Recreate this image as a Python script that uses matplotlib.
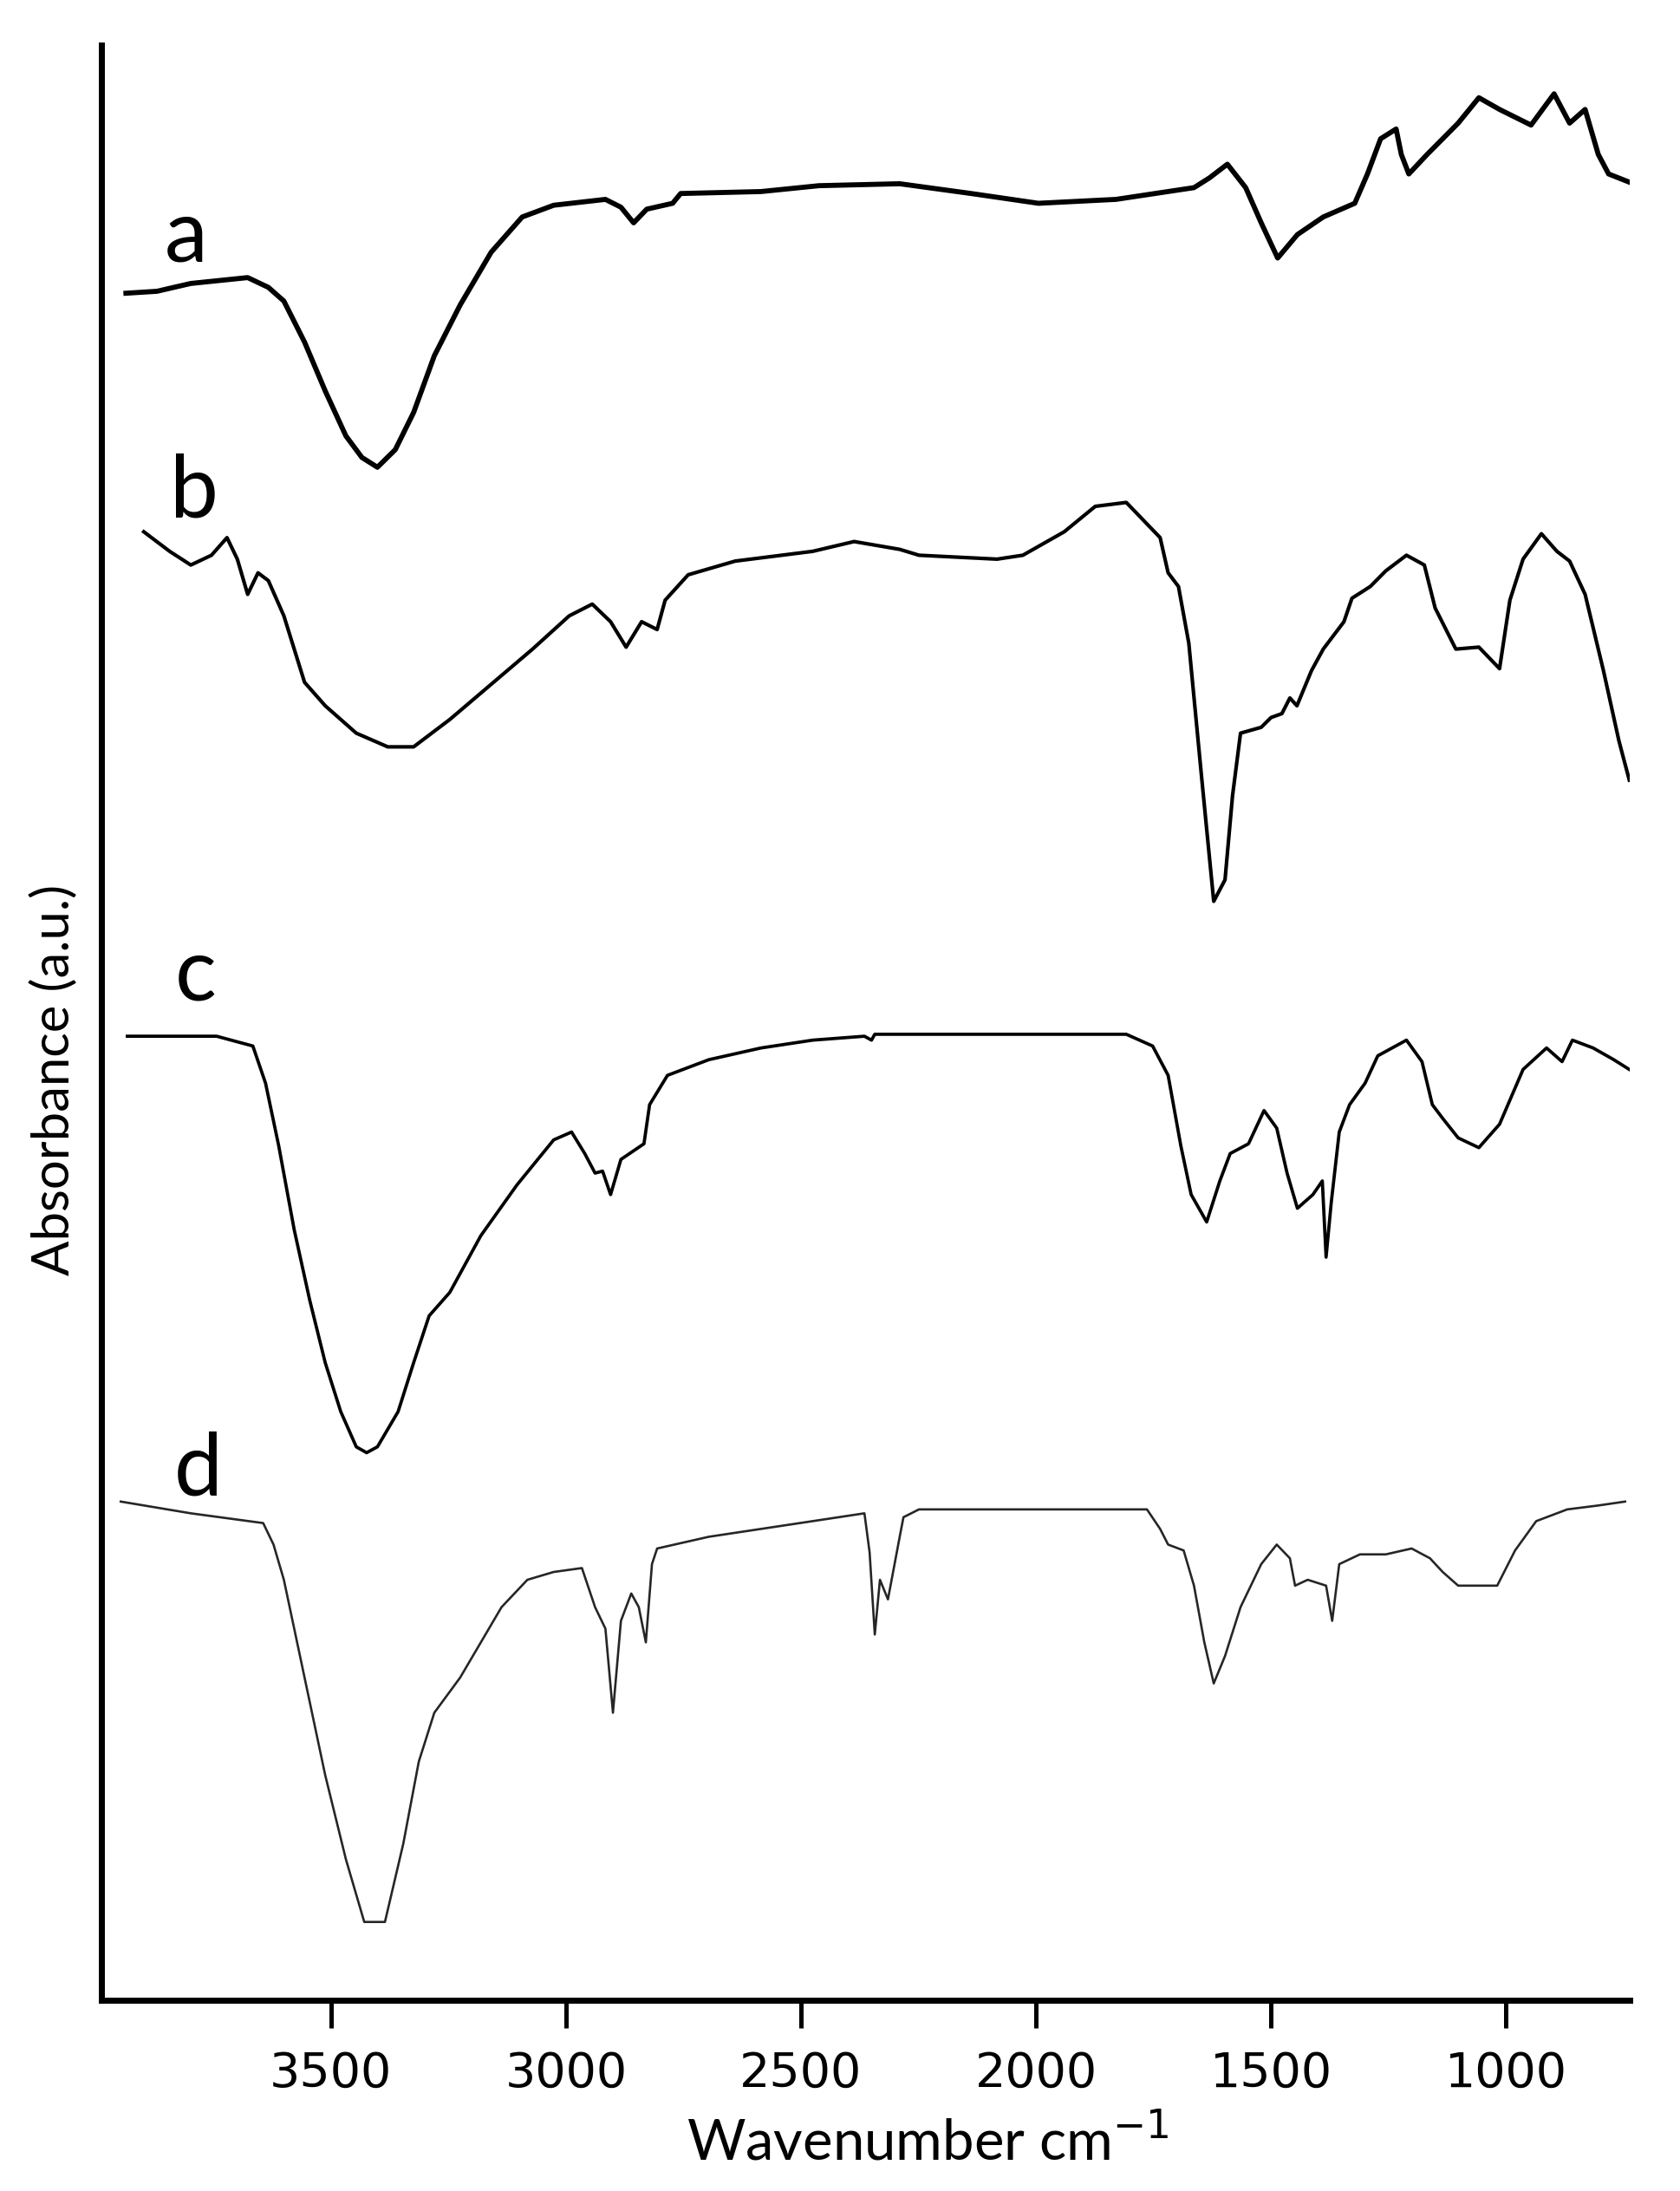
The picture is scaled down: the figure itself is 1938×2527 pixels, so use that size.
import matplotlib
matplotlib.use("Agg")
import matplotlib.pyplot as plt

# ---- data (wavenumber cm^-1, absorbance a.u. incl. stacking offset) ----
wn_a = [3936, 3870, 3798, 3677, 3633, 3600, 3556, 3512, 3468, 3434, 3401, 3363, 3324, 3280,
        3225, 3159, 3093, 3026, 2916, 2883, 2856, 2828, 2773, 2756, 2585, 2462, 2290, 2138,
        1995, 1830, 1664, 1631, 1593, 1554, 1521, 1486, 1444, 1389, 1322, 1295, 1267, 1234,
        1223, 1207, 1168, 1102, 1058, 1014, 947, 898, 865, 832, 804, 782, 740]
abs_a = [87.3, 87.4, 87.8, 88.1, 87.6, 86.9, 84.8, 82.3, 80.0, 78.9, 78.4, 79.3, 81.2, 84.1,
         86.7, 89.4, 91.2, 91.8, 92.1, 91.7, 90.9, 91.6, 91.9, 92.4, 92.5, 92.8, 92.9, 92.4,
         91.9, 92.1, 92.7, 93.2, 93.9, 92.7, 90.9, 89.1, 90.3, 91.2, 91.9, 93.4, 95.2, 95.7,
         94.4, 93.4, 94.4, 96.0, 97.3, 96.7, 95.9, 97.5, 96.0, 96.7, 94.4, 93.4, 93.0]

wn_b = [3898, 3843, 3798, 3754, 3721, 3699, 3677, 3655, 3633, 3600, 3578, 3556, 3512, 3446,
        3379, 3324, 3247, 3159, 3071, 2993, 2944, 2905, 2872, 2839, 2806, 2789, 2740, 2640,
        2475, 2387, 2290, 2249, 2083, 2028, 1940, 1874, 1808, 1764, 1736, 1719, 1697, 1675,
        1648, 1622, 1598, 1582, 1565, 1521, 1500, 1477, 1460, 1445, 1433, 1414, 1389, 1345,
        1328, 1289, 1256, 1212, 1174, 1151, 1107, 1058, 1014, 992, 964, 925, 892, 865,
        832, 793, 760, 738]
abs_b = [75.1, 74.1, 73.4, 73.9, 74.8, 73.7, 71.9, 73.0, 72.6, 70.8, 69.1, 67.4, 66.2, 64.8,
         64.1, 64.1, 65.5, 67.3, 69.1, 70.8, 71.4, 70.5, 69.2, 70.5, 70.1, 71.6, 72.9, 73.6,
         74.1, 74.6, 74.2, 73.9, 73.7, 73.9, 75.1, 76.4, 76.6, 75.5, 74.8, 73.0, 72.3, 69.4,
         62.6, 56.2, 57.3, 61.6, 64.8, 65.1, 65.6, 65.8, 66.6, 66.2, 66.9, 68.0, 69.1, 70.5,
         71.7, 72.3, 73.1, 73.9, 73.4, 71.2, 69.1, 69.2, 68.1, 71.6, 73.7, 75.0, 74.1, 73.6,
         71.9, 68.0, 64.4, 62.4]

wn_c = [3933, 3743, 3666, 3639, 3611, 3578, 3545, 3512, 3479, 3446, 3424, 3401, 3357, 3324,
        3291, 3247, 3181, 3104, 3026, 2988, 2960, 2938, 2922, 2905, 2883, 2834, 2822, 2784,
        2696, 2585, 2475, 2365, 2350, 2343, 2290, 2138, 1808, 1752, 1719, 1692, 1670, 1637,
        1609, 1587, 1548, 1515, 1488, 1466, 1444, 1411, 1391, 1383, 1372, 1355, 1333, 1300,
        1273, 1212, 1179, 1157, 1135, 1102, 1058, 1014, 964, 914, 881, 859, 815, 771, 738]
abs_c = [49.3, 49.3, 48.8, 46.9, 43.7, 39.4, 35.8, 32.6, 30.1, 28.3, 28.0, 28.3, 30.1, 32.6,
         35.0, 36.2, 39.1, 41.7, 44.0, 44.4, 43.3, 42.3, 42.4, 41.2, 43.0, 43.8, 45.8, 47.3,
         48.1, 48.7, 49.1, 49.3, 49.1, 49.4, 49.4, 49.4, 49.4, 48.8, 47.3, 43.7, 41.2, 39.8,
         41.9, 43.3, 43.8, 45.5, 44.6, 42.3, 40.5, 41.2, 41.9, 38.0, 40.8, 44.4, 45.8, 46.9,
         48.3, 49.1, 48.0, 45.8, 45.1, 44.1, 43.6, 44.8, 47.6, 48.7, 48.0, 49.1, 48.7, 48.1, 47.6]

wn_d = [3947, 3798, 3644, 3622, 3600, 3556, 3512, 3468, 3429, 3385, 3346, 3313, 3280, 3225,
        3137, 3082, 3026, 2966, 2938, 2916, 2900, 2883, 2861, 2845, 2830, 2817, 2806, 2696,
        2475, 2365, 2354, 2343, 2332, 2315, 2290, 2282, 2249, 2028, 1764, 1736, 1719, 1686,
        1664, 1642, 1622, 1598, 1565, 1521, 1488, 1460, 1449, 1422, 1383, 1370, 1355, 1311,
        1256, 1201, 1162, 1135, 1102, 1058, 1019, 981, 936, 870, 804, 747]
abs_d = [25.5, 24.9, 24.4, 23.3, 21.5, 16.5, 11.5, 7.2, 4.0, 4.0, 8.0, 12.2, 14.7, 16.5,
         20.1, 21.5, 21.9, 22.1, 20.1, 19.0, 14.7, 19.4, 20.8, 20.1, 18.3, 22.3, 23.1, 23.7,
         24.5, 24.9, 22.9, 18.7, 21.5, 20.5, 23.7, 24.7, 25.1, 25.1, 25.1, 24.1, 23.3, 23.0,
         21.2, 18.3, 16.2, 17.6, 20.1, 22.3, 23.3, 22.6, 21.2, 21.5, 21.2, 19.4, 22.3, 22.8,
         22.8, 23.1, 22.6, 21.9, 21.2, 21.2, 21.2, 23.0, 24.5, 25.1, 25.3, 25.5]

labels = ["a", "b", "c", "d"]
label_wn = [3809, 3790, 3788, 3783]
label_abs = [90.2, 77.1, 52.4, 27.1]

tick_vals = [3500, 3000, 2500, 2000, 1500, 1000]
tick_text = ["3500", "3000", "2500", "2000", "1500", "1000"]

# ---- figure ----
fig = plt.figure(figsize=(19.38, 25.27), dpi=100)
ax = fig.add_axes([0.0604, 0.0871, 0.9097, 0.8924])

series = [(wn_a, abs_a, 4.2, "#000000"),
          (wn_b, abs_b, 3.0, "#000000"),
          (wn_c, abs_c, 2.7, "#000000"),
          (wn_d, abs_d, 1.9, "#262626")]
for wn, ab, lw, col in series:
    ax.plot(wn, ab, color=col, lw=lw, solid_joinstyle="round")

for t, x, y in zip(labels, label_wn, label_abs):
    ax.text(x, y, t, fontsize=72, family=["Lato", "DejaVu Sans"], ha="center", va="center")

ax.set_xlim(3988, 737)
ax.set_ylim(0, 100)
ax.spines["top"].set_visible(False)
ax.spines["right"].set_visible(False)
for s in ("left", "bottom"):
    ax.spines[s].set_linewidth(5)
    ax.spines[s].set_capstyle("projecting")
ax.set_yticks([])
ax.set_xticks(tick_vals)
ax.set_xticklabels(tick_text, fontsize=40, family="DejaVu Sans")
ax.tick_params(axis="x", direction="out", length=23, width=3.6, pad=19)

fig.text(0.552, 0.0226, "Wavenumber cm$^{-1}$", fontsize=47, family=["Lato", "DejaVu Sans"],
         ha="center", va="center")
fig.text(0.032, 0.507, "Absorbance (a.u.)", fontsize=43, family=["Lato", "DejaVu Sans"],
         ha="center", va="center", rotation=90)

fig.savefig("out.png", dpi=100)
